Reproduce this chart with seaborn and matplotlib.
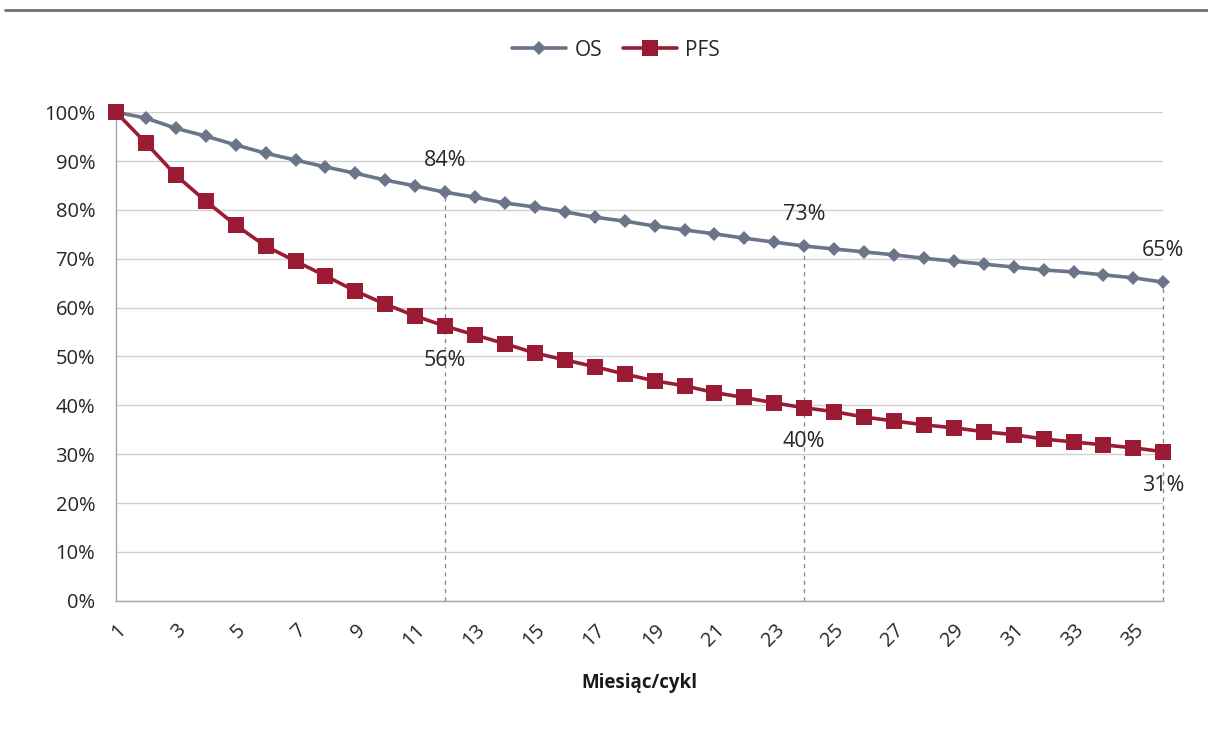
import numpy as np
import pandas as pd
import matplotlib
matplotlib.use("Agg")
import matplotlib.pyplot as plt
from matplotlib.lines import Line2D
from matplotlib.ticker import PercentFormatter
import seaborn as sns

months = list(range(1, 37))
os_values = [100.0, 98.8, 96.7, 95.1, 93.3, 91.6, 90.2, 88.8, 87.5, 86.1,
             84.9, 83.6, 82.6, 81.4, 80.6, 79.6, 78.5, 77.7, 76.7, 75.9,
             75.1, 74.2, 73.4, 72.6, 72.0, 71.4, 70.8, 70.1, 69.5, 68.9,
             68.3, 67.7, 67.3, 66.7, 66.1, 65.2]
pfs_values = [100.0, 93.7, 87.1, 81.8, 76.9, 72.6, 69.5, 66.5, 63.4, 60.7,
              58.3, 56.2, 54.4, 52.6, 50.7, 49.3, 47.9, 46.4, 45.0, 44.0,
              42.6, 41.6, 40.5, 39.5, 38.7, 37.6, 36.8, 36.0, 35.4, 34.6,
              34.0, 33.1, 32.5, 31.9, 31.3, 30.5]
marked_months = [12, 24, 36]
os_labels = ["84%", "73%", "65%"]
pfs_labels = ["56%", "40%", "31%"]

os_color = "#6B7489"
pfs_color = "#9B1B34"

sns.set_style("white")
plt.rcParams["font.family"] = ["Open Sans", "DejaVu Sans"]

df = pd.DataFrame({
    "Miesiąc": months * 2,
    "Wartość": os_values + pfs_values,
    "Seria": ["OS"] * len(months) + ["PFS"] * len(months),
})

fig = plt.figure(figsize=(12.08, 7.38), dpi=100)
ax = fig.add_axes([0.096, 0.186, 0.867, 0.662])

sns.lineplot(data=df, x="Miesiąc", y="Wartość", hue="Seria", style="Seria",
             palette={"OS": os_color, "PFS": pfs_color},
             markers={"OS": "D", "PFS": "s"}, dashes=False,
             linewidth=2.6, markeredgewidth=0, legend=False, ax=ax)
for line, ms in zip(ax.lines, [7.5, 11]):
    line.set_markersize(ms)
    line.set_clip_on(False)
    line.set_zorder(3)

# dashed guide lines and value labels
for m, lo, lp in zip(marked_months, os_labels, pfs_labels):
    i = months.index(m)
    ax.plot([m, m], [0, os_values[i]], ls=(0, (3, 3)), color="#8C8C8C",
            lw=1, zorder=2, clip_on=False)
    ax.text(m, os_values[i] + 4.3, lo, ha="center", va="bottom",
            fontsize=15.5, color="#262626")
    ax.text(m, pfs_values[i] - 4.8, lp, ha="center", va="top",
            fontsize=15.5, color="#262626")

ax.set_xlim(1, 36)
ax.set_ylim(0, 100)
ax.set_yticks(np.arange(0, 101, 10))
ax.yaxis.set_major_formatter(PercentFormatter(decimals=0))
ax.set_xticks(months)
ax.set_xticklabels([str(m) if m % 2 == 1 else "" for m in months],
                   rotation=45, ha="right", rotation_mode="anchor")
ax.tick_params(axis="x", length=6, width=1, color="#A6A6A6", pad=8,
               labelsize=14.5, labelcolor="#262626")
ax.tick_params(axis="y", length=6, width=1, color="#A6A6A6", pad=9,
               labelsize=14.5, labelcolor="#262626")
ax.grid(axis="y", color="#D0D0D0", lw=1)
ax.set_axisbelow(True)
for side in ["top", "right"]:
    ax.spines[side].set_visible(False)
for side in ["left", "bottom"]:
    ax.spines[side].set_color("#A6A6A6")
    ax.spines[side].set_linewidth(1)
ax.set_xlabel("Miesiąc/cykl", fontsize=13.5, fontweight="bold",
              color="#1A1A1A", labelpad=16)
ax.set_ylabel("")

handles = [
    Line2D([], [], color=os_color, lw=2.6, marker="D", markersize=7.5,
           markeredgewidth=0),
    Line2D([], [], color=pfs_color, lw=2.6, marker="s", markersize=11,
           markeredgewidth=0),
]
fig.legend(handles, ["OS", "PFS"], loc="center", bbox_to_anchor=(0.51, 0.932),
           ncol=2, frameon=False, fontsize=15, handlelength=2.6,
           columnspacing=1.0, handletextpad=0.4)

fig.add_artist(Line2D([0.004, 1.0], [0.986, 0.986], color="#707070", lw=2))

fig.savefig("out.png", dpi=100, facecolor="white")
